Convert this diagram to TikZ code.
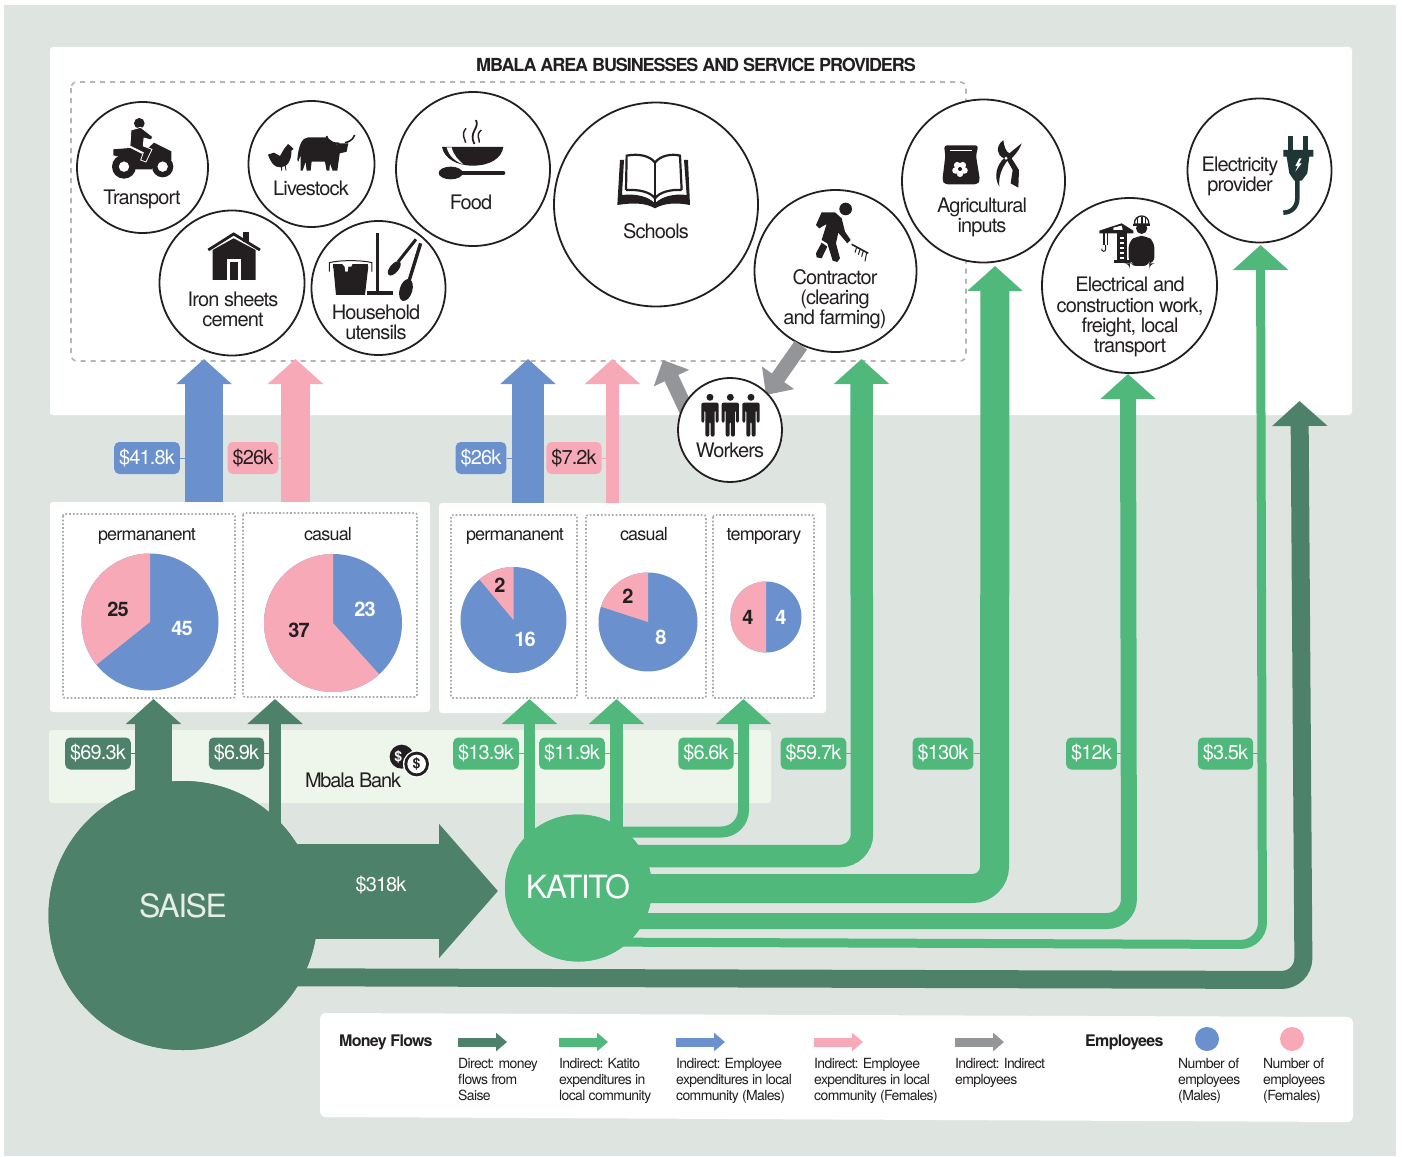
\documentclass[tikz,border=0pt]{standalone}
\usepackage{fontspec}
\setmainfont{TeX Gyre Heros}[LetterSpace=-4.5]
\usetikzlibrary{arrows.meta}
\definecolor{bgcol}{HTML}{DEE5E1}
\definecolor{bandcol}{HTML}{EEF5EA}
\definecolor{darkgreen}{HTML}{4E8169}
\definecolor{midgreen}{HTML}{50B87B}
\definecolor{malecol}{HTML}{6A91CE}
\definecolor{femalecol}{HTML}{F7A9B8}
\definecolor{workercol}{HTML}{939598}
\definecolor{ink}{HTML}{231F20}
\tikzset{
  biz/.style={circle,draw=ink,fill=white,line width=1.8pt,inner sep=0pt},
  bizlab/.style={text=ink,align=center,inner sep=0pt,font=\fontsize{20}{20.2}\selectfont},
  piehead/.style={text=ink,inner sep=0pt,font=\fontsize{18}{18}\selectfont},
  pienum/.style={inner sep=0pt,font=\bfseries\fontsize{20}{20}\selectfont},
  panel/.style={fill=white,rounded corners=3pt,inner sep=0pt},
  pricetag/.style={rounded corners=5pt,minimum height=32pt,inner xsep=5pt,inner ysep=0pt,font=\fontsize{20}{20}\selectfont},
  gtag/.style={pricetag,fill=midgreen,text=white},
  dtag/.style={pricetag,fill=darkgreen,text=white},
  btag/.style={pricetag,fill=malecol,text=white},
  ptag/.style={pricetag,fill=femalecol,text=ink},
  tick/.style={line width=1pt},
  flow/.style={-{Triangle[width=54pt,length=25pt]},line width=#1,rounded corners=22pt},
  legarrow/.style={-{Triangle[width=18pt,length=11pt]},line width=9pt},
  legtext/.style={text=ink,align=left,anchor=north west,inner sep=0pt,font=\fontsize{14}{16}\selectfont},
  legbold/.style={text=ink,anchor=west,inner sep=0pt,font=\bfseries\fontsize{16}{16}\selectfont},
  dotbox/.style={workercol!80,line width=1.7pt,dash pattern=on 1.7pt off 2pt,rounded corners=2pt},
  zoomA/.style={shift={(50,80)},x=.3333pt,y=-.3333pt},
  zoomB/.style={shift={(540,90)},x=.3333pt,y=-.3333pt},
  zoomC/.style={shift={(900,90)},x=.3333pt,y=-.3333pt},
  zoomD/.style={shift={(40,700)},x=.3333pt,y=-.3333pt},
  zoomF/.style={shift={(420,105)},x=.3333pt,y=-.3333pt},
}
\begin{document}
\begin{tikzpicture}[x=1pt,y=-1pt]
\useasboundingbox (0,0) rectangle (1402,1156);
\fill[bgcol] (4,5) rectangle (1396,1156);
% panels
\node[panel,minimum width=1302pt,minimum height=368pt] (toppanel) at (701,231) {};
\draw[workercol!70,line width=1.6pt,dash pattern=on 5pt off 5pt,rounded corners=6pt] (71,82) rectangle (966,361);
\node[panel,minimum width=380pt,minimum height=210pt] (leftpanel) at (240,607) {};
\node[panel,minimum width=387pt,minimum height=210pt] (rightpanel) at (632.5,608) {};
\node[panel,fill=bandcol,minimum width=722pt,minimum height=73pt] (bank) at (410,766.5) {};
\draw[dotbox] (63,514) rectangle (235,698);
\draw[dotbox] (243,513) rectangle (417,697);
\draw[dotbox] (451,515) rectangle (577,698);
\draw[dotbox] (586,515) rectangle (706,698);
\draw[dotbox] (713,515) rectangle (814,698);
\node[text=ink,inner sep=0pt,font=\bfseries\fontsize{18}{18}\addfontfeature{LetterSpace=-6}\selectfont] (maintitle) at (696,65) {MBALA AREA BUSINESSES AND SERVICE PROVIDERS};
% pies
\foreach \cx/\cy/\rad/\ang in {150/622/68.5/128.6,333/623/69/222,513.5/620/53/40,648/622/49.5/72,766/617/35.5/180}{
  \fill[malecol] (\cx,\cy) circle (\rad);
  \fill[femalecol] (\cx,\cy) -- ++(-90:\rad) arc[start angle=-90,delta angle=-\ang,radius=\rad] -- cycle;
}
\node[piehead] (headA) at (147,536) {permananent};
\node[piehead] (headB) at (328,534.5) {casual};
\node[piehead] (headC) at (515,536) {permananent};
\node[piehead] (headD) at (644,534.5) {casual};
\node[piehead] (headE) at (764,536) {temporary};
\node[pienum,text=white] (numA) at (182,628) {45};
\node[pienum,text=ink] (numB) at (118,609) {25};
\node[pienum,text=white] (numC) at (365,609) {23};
\node[pienum,text=ink] (numD) at (299,630) {37};
\node[pienum,text=ink] (numE) at (500,585) {2};
\node[pienum,text=white] (numF) at (525,639) {16};
\node[pienum,text=ink] (numG) at (628,596) {2};
\node[pienum,text=white] (numH) at (661,637) {8};
\node[pienum,text=ink] (numI) at (748,617) {4};
\node[pienum,text=white] (numJ) at (781,617) {4};
% circles that send the money
\node[circle,fill=darkgreen,minimum size=269pt,inner sep=0pt] (saise) at (183,915.5) {};
\node[circle,fill=midgreen,minimum size=147pt,inner sep=0pt] (katito) at (578.5,888) {};
% arrow tips
\coordinate (tipBa) at (204,359);
\coordinate (tipPa) at (295.5,359);
\coordinate (tipBb) at (528,359);
\coordinate (tipPb) at (612.5,359);
\coordinate (tipSa) at (153.5,699);
\coordinate (tipSb) at (275,699);
\coordinate (tipKa) at (529.5,699);
\coordinate (tipKb) at (616.5,699);
\coordinate (tipKc) at (743.5,699);
\coordinate (tipCon) at (861.5,359);
\coordinate (tipAgr) at (995,266);
\coordinate (tipEle) at (1128,374);
\coordinate (tipPow) at (1260.5,245);
\coordinate (tipLast) at (1299.5,401);
\coordinate (tipBig) at (498,891);
\coordinate (tipSch) at (663,360);
% corners
\coordinate (bendKc) at (743.5,832);
\coordinate (bendCon) at (862,856);
\coordinate (bendAgr) at (994.5,888.5);
\coordinate (bendEle) at (1129,921);
\coordinate (bendPow) at (1262.5,944.5);
\coordinate (bendLast) at (1303.5,980);
\coordinate (startPow) at (578,942);
\coordinate (startLast) at (183,977);
% money flows
\draw[flow=38pt,draw=malecol] (tipBa |- leftpanel.north) -- (tipBa);
\draw[flow=29pt,draw=femalecol] (tipPa |- leftpanel.north) -- (tipPa);
\draw[flow=32pt,draw=malecol] (tipBb |- rightpanel.north) -- (tipBb);
\draw[flow=13pt,draw=femalecol] (tipPb |- rightpanel.north) -- (tipPb);
\draw[flow=37pt,draw=darkgreen] (tipSa |- saise) -- (tipSa);
\draw[flow=12pt,draw=darkgreen] (tipSb |- saise) -- (tipSb);
\draw[flow=11.5pt,draw=midgreen] (tipKa |- katito) -- (tipKa);
\draw[flow=13pt,draw=midgreen] (tipKb |- katito) -- (tipKb);
\draw[flow=11pt,draw=midgreen] (bendKc -| katito) -- (bendKc) -- (tipKc);
\draw[flow=22.5pt,draw=midgreen] (bendCon -| katito) -- (bendCon) -- (tipCon);
\draw[flow=29pt,draw=midgreen] (bendAgr -| katito) -- (bendAgr) -- (tipAgr);
\draw[flow=16pt,draw=midgreen] (bendEle -| katito) -- (bendEle) -- (tipEle);
\draw[flow=9pt,draw=midgreen] (startPow) -- (bendPow) -- (tipPow);
\draw[flow=18pt,draw=darkgreen] (startLast) -- (bendLast) -- (tipLast);
\draw[darkgreen,line width=95pt,-{Triangle[width=131pt,length=59pt]}] (tipBig -| saise) -- (tipBig);
% the two that send, again over their arrows
\node[circle,fill=darkgreen,minimum size=269pt,inner sep=0pt] at (saise) {};
\node[circle,fill=midgreen,minimum size=147pt,inner sep=0pt] at (katito) {};
\node[text=bgcol!70!white,inner sep=0pt,font=\fontsize{32}{32}\selectfont] (saisetext) at (183,906) {SAISE};
\node[text=white,inner sep=0pt,font=\fontsize{32}{32}\selectfont] (katitotext) at (578,887) {KATITO};
\node[text=white,inner sep=0pt,font=\fontsize{20}{20}\selectfont] (bigtag) at (381,885.5) {\$318k};
% businesses
\node[biz,minimum size=131pt] (transport) at (142.5,167.5) {};
\node[biz,minimum size=126pt] (livestock) at (311.5,164) {};
\node[biz,minimum size=154pt] (food) at (473,169) {};
\node[biz,minimum size=145pt] (iron) at (232,283) {};
\node[biz,minimum size=134pt] (house) at (378.5,288) {};
\node[biz,minimum size=204pt] (schools) at (656,204.5) {};
\node[biz,minimum size=162pt] (contractor) at (835.5,271) {};
\node[biz,minimum size=163pt] (agri) at (983.5,181) {};
\node[biz,minimum size=175pt] (electrical) at (1129.5,285.5) {};
\node[biz,minimum size=144pt] (power) at (1259.5,170.5) {};
% workers arrows
\draw[workercol,line width=15pt,-{Triangle[width=38pt,length=21pt]}] (contractor.245) -- (766,395) coordinate (tipWork);
\draw[workercol,line width=15pt,-{Triangle[width=38pt,length=20pt]}] (692,422) coordinate (startSch) -- (tipSch);
\node[biz,minimum size=104pt] (workers) at (730,430) {};
% texts of the circles
\node[bizlab] (transportlab) at (142,199) {Transport};
\node[bizlab] (livestocklab) at (311,188) {Livestock};
\node[bizlab] (foodlab) at (471,202) {Food};
\node[bizlab] (ironlab) at (233,309.5) {Iron sheets\\cement};
\node[bizlab] (houselab) at (376,322) {Household\\utensils};
\node[bizlab] (schoolslab) at (656,231) {Schools};
\node[bizlab] (contractorlab) at (835,299) {Contractor\\(clearing\\and farming)};
\node[bizlab] (agrilab) at (982,217) {Agricultural\\inputs};
\node[bizlab] (electricallab) at (1130,317) {Electrical and\\construction work,\\freight, local\\transport};
\node[bizlab] (powerlab) at (1240,176) {Electricity\\provider};
\node[bizlab] (workerslab) at (730,450) {Workers};
\node[bizlab,font=\fontsize{20}{20}\addfontfeature{LetterSpace=-6}\selectfont] (banklab) at (353,780) {Mbala Bank};
% money tags
\node[btag] (tagA) at (147,458) {\$41.8k};
\node[ptag] (tagB) at (253,458) {\$26k};
\node[btag] (tagC) at (481,458) {\$26k};
\node[ptag] (tagD) at (574,458) {\$7.2k};
\node[dtag] (tagE) at (98,753.5) {\$69.3k};
\node[dtag] (tagF) at (236.5,753.5) {\$6.9k};
\node[gtag] (tagG) at (486,753.5) {\$13.9k};
\node[gtag] (tagH) at (572,753.5) {\$11.9k};
\node[gtag] (tagI) at (706,753.5) {\$6.6k};
\node[gtag] (tagJ) at (813.5,753.5) {\$59.7k};
\node[gtag] (tagK) at (943,753.5) {\$130k};
\node[gtag] (tagL) at (1091.5,753.5) {\$12k};
\node[gtag] (tagM) at (1225.5,753.5) {\$3.5k};
\draw[tick,malecol] (tagA) -- (tagA -| tipBa);
\draw[tick,femalecol] (tagB) -- (tagB -| tipPa);
\draw[tick,malecol] (tagC) -- (tagC -| tipBb);
\draw[tick,femalecol] (tagD) -- (tagD -| tipPb);
\draw[tick,darkgreen] (tagE) -- (tagE -| tipSa);
\draw[tick,darkgreen] (tagF) -- (tagF -| tipSb);
\draw[tick,midgreen] (tagG) -- (tagG -| tipKa);
\draw[tick,midgreen] (tagH) -- (tagH -| tipKb);
\draw[tick,midgreen] (tagI) -- (tagI -| tipKc);
\draw[tick,midgreen] (tagJ) -- (tagJ -| tipCon);
\draw[tick,midgreen] (tagK) -- (tagK -| tipAgr);
\draw[tick,midgreen] (tagL) -- (tagL -| tipEle);
\draw[tick,midgreen] (tagM) -- (tagM -| tipPow);
% icons, top left
\begin{scope}[zoomA]
  % quad bike
  \fill[ink] (190,208) -- (240,204) -- (276,222) -- (312,188) -- (364,214) -- (364,240) -- (316,244) -- (306,268) -- (256,268) -- (250,240) -- (190,226) -- cycle;
  \fill[ink,even odd rule] (222,260) circle (36) circle (16) (338,260) circle (32) circle (16);
  \fill[ink] (268,130) circle (16);
  \filldraw[ink,draw=white,line width=.8pt] (243,150) -- (272,142) -- (308,170) -- (304,180) -- (282,174) -- (280,198) -- (306,208) -- (288,246) -- (272,240) -- (280,218) -- (240,198) -- cycle;
  % hen and cow
  \fill[ink] (654,224) -- (672,218) -- (690,228) .. controls (698,215) and (702,205) .. (708,200) -- (714,192) -- (722,198) -- (731,207) -- (724,212) .. controls (726,240) and (712,262) .. (692,262) .. controls (672,262) and (664,250) .. cycle;
  \draw[ink,line width=.8pt] (695,260) -- (695,272) (706,258) -- (708,272);
  \fill[ink] (742,240) .. controls (745,200) and (755,172) .. (775,172) -- (830,172) -- (862,195) -- (870,215) -- (862,272) -- (848,272) -- (840,250) -- (838,272) -- (830,272) -- (825,245) -- (785,245) -- (782,272) -- (770,272) -- (767,245) -- (758,272) -- (752,272) -- (752,225) -- (745,245) -- cycle;
  \fill[ink] (860,190) -- (895,190) -- (890,215) -- (870,220) -- cycle;
  \draw[ink,line width=1.6pt] (830,168) .. controls (835,190) and (855,190) .. (868,190) (914,165) .. controls (908,182) and (895,186) .. (885,188);
  % house
  \draw[ink,line width=2.8pt] (475,510) -- (551,462) -- (630,510);
  \fill[ink] (580,456) rectangle (597,485);
  \fill[ink] (488,600) -- (488,510) -- (551,475) -- (617,510) -- (617,600) -- cycle;
  \fill[white] (532,600) rectangle (572,538);
  \fill[ink] (540,600) rectangle (565,547);
  % bucket, mop, spoons
  \fill[ink] (850,560) -- (955,560) -- (945,645) -- (858,645) -- cycle;
  \draw[ink,line width=1pt] (838,575) -- (838,548) .. controls (870,540) and (935,540) .. (966,548) -- (966,575);
  \fill[ink] (850,552) rectangle (955,565);
  \fill[white] (875,550) -- (908,550) -- (904,560) -- (895,560) -- (893,575) -- (886,575) -- (884,560) -- cycle;
  \fill[ink] (977,458) rectangle (987,632);
  \fill[ink] (950,632) rectangle (1028,645);
  \draw[ink,line width=3pt] (1098,478) -- (1045,545);
  \fill[ink,rotate around={-40:(1033,565)}] (1033,565) ellipse (13 and 26);
  \draw[ink,line width=3.4pt] (1112,490) -- (1078,600);
  \fill[ink,rotate around={-17:(1068,630)}] (1068,630) ellipse (19 and 34);
\end{scope}
% bowl and spoon
\begin{scope}[zoomF]
  \fill[ink] (66,126) -- (250,126) .. controls (245,160) and (210,182) .. (158,182) .. controls (110,182) and (72,160) .. cycle;
  \fill[white] (80,127) -- (95,127) .. controls (100,150) and (115,165) .. (130,178) .. controls (105,170) and (85,150) .. cycle;
  \fill[ink] (92,204) ellipse (36 and 19);
  \draw[ink,line width=4pt,line cap=round] (125,204) -- (250,204);
  \draw[ink,line width=1.4pt] (138,70) .. controls (122,90) and (135,100) .. (137,113);
  \draw[ink,line width=1.8pt] (168,45) .. controls (180,70) and (145,80) .. (163,117);
  \draw[ink,line width=1.4pt] (184,75) .. controls (165,92) and (180,100) .. (178,113);
\end{scope}
% book, digger, workers
\begin{scope}[zoomB]
  \draw[ink,line width=2.2pt] (258,300) -- (260,197) .. controls (295,190) and (330,197) .. (345,218) .. controls (360,197) and (395,190) .. (420,197) -- (425,300);
  \draw[ink,line width=2.2pt] (258,300) .. controls (295,298) and (330,305) .. (345,325) .. controls (360,305) and (395,298) .. (425,300);
  \draw[ink,line width=2.2pt] (345,218) -- (345,350);
  \fill[ink] (240,210) -- (252,210) -- (246,315) .. controls (290,310) and (325,320) .. (345,340) .. controls (365,320) and (400,310) .. (440,315) -- (432,210) -- (444,210) -- (450,345) .. controls (410,338) and (375,338) .. (345,355) .. controls (315,338) and (280,338) .. (232,345) -- cycle;
  \fill[ink] (917,357) circle (19);
  \fill[ink] (845,367) -- (885,367) -- (905,385) -- (915,425) -- (932,450) -- (922,460) -- (895,428) -- (888,460) -- (900,505) -- (892,516) -- (878,512) -- (862,460) -- (845,450) -- (860,402) -- (838,415) -- (828,405) -- cycle;
  \fill[ink] (845,458) -- (862,470) -- (845,505) -- (830,502) -- (828,490) -- cycle;
  \draw[ink,line width=1.6pt] (935,463) -- (985,490);
  \draw[ink,line width=1pt] (950,472) -- (945,488) (960,478) -- (955,494) (970,483) -- (965,500) (980,488) -- (975,514);
  \foreach \wx in {510,571,633}{
    \fill[ink] (\wx,922) circle (10.5);
    \fill[ink,rounded corners=2pt] (\wx-26,938) -- (\wx+26,938) -- (\wx+26,998) -- (\wx+17,998) -- (\wx+17,960) -- (\wx+14,960) -- (\wx+14,1040) -- (\wx+2,1040) -- (\wx+2,995) -- (\wx-2,995) -- (\wx-2,1040) -- (\wx-14,1040) -- (\wx-14,960) -- (\wx-17,960) -- (\wx-17,998) -- (\wx-26,998) -- cycle;
  }
\end{scope}
% bag, clippers, crane, plug
\begin{scope}[zoomC]
  \fill[ink,rounded corners=3pt] (132,166) -- (235,166) -- (228,197) -- (240,272) -- (232,283) -- (135,283) -- (127,272) -- (136,197) -- cycle;
  \draw[white,line width=.8pt] (150,181) -- (215,181);
  \foreach \pa in {0,72,144,216,288}{
    \fill[white] (180,237) ++(\pa+90:14) circle (10);
  }
  \fill[ink] (180,237) circle (6);
  \fill[ink] (310,150) .. controls (285,170) and (290,195) .. (312,205) .. controls (290,225) and (280,260) .. (298,290) .. controls (295,260) and (305,235) .. (322,212) -- (338,240) -- (332,280) -- (355,293) -- (357,240) -- (335,205) .. controls (350,190) and (360,175) .. (365,160) -- (328,190) .. controls (318,185) and (312,170) .. cycle;
  \fill[white] (318,205) circle (5);
  % crane
  \fill[ink] (598,422) -- (665,400) -- (700,422) -- (700,430) -- (598,430) -- cycle;
  \fill[white] (640,413) -- (665,407) -- (668,420) -- (640,420) -- cycle;
  \fill[ink] (652,430) rectangle (680,510);
  \foreach \ly in {440,455,470,485,500}{
    \fill[white] (660,\ly) rectangle (672,\ly+7);
  }
  \fill[ink] (642,510) rectangle (690,518);
  \draw[ink,line width=1.3pt] (612,430) -- (612,465) (622,430) -- (622,465);
  \draw[ink,line width=1pt] (617,465) -- (617,478) arc[start angle=0,delta angle=200,radius=6];
  % builder
  \fill[ink] (725,415) circle (17);
  \filldraw[fill=white,draw=ink,line width=1.3pt] (703,402) .. controls (703,370) and (747,370) .. (747,402) -- cycle;
  \fill[ink] (700,401) rectangle (750,407);
  \fill[ink] (722,380) rectangle (728,402);
  \fill[ink] (711,385) rectangle (714,402);
  \fill[ink] (736,385) rectangle (739,402);
  \fill[ink,rounded corners=6pt] (686,455) -- (710,438) -- (740,438) -- (763,455) -- (763,520) -- (748,520) -- (748,528) -- (690,528) -- (690,520) -- (686,520) -- cycle;
  % plug
  \fill[ink!90!cyan] (1165,137) rectangle (1180,185);
  \fill[ink!90!cyan] (1210,137) rectangle (1225,185);
  \fill[ink!90!cyan] (1150,180) -- (1240,180) -- (1240,200) -- (1228,200) -- (1222,250) -- (1205,272) -- (1183,272) -- (1168,250) -- (1160,200) -- (1150,200) -- cycle;
  \fill[white] (1198,205) -- (1186,228) -- (1193,228) -- (1186,245) -- (1205,220) -- (1197,220) -- (1205,205) -- cycle;
  \draw[ink!90!cyan,line width=4.5pt] (1192,268) -- (1192,325) .. controls (1192,350) and (1175,368) .. (1150,368);
\end{scope}
% coins
\begin{scope}[zoomD]
  \fill[ink] (1085,170) circle (36);
  \node[text=white,inner sep=0pt,font=\bfseries\fontsize{14}{14}\selectfont] (coinA) at (1075,170) {\$};
  \fill[white] (1130,192) circle (41);
  \fill[ink] (1130,192) circle (37);
  \fill[white] (1130,192) circle (28);
  \node[text=ink,inner sep=0pt,font=\bfseries\fontsize{14}{14}\selectfont] (coinB) at (1130,192) {\$};
\end{scope}
% legend
\fill[white,rounded corners=6pt] (320,1013) -- (1353,1017) -- (1353,1122) -- (320,1117) -- cycle;
\node[legbold] (legtitleA) at (339,1042) {Money Flows};
\node[legbold] (legtitleB) at (1085,1042) {Employees};
\coordinate (legA) at (458,1042);
\coordinate (legB) at (559,1042);
\coordinate (legC) at (676,1042);
\coordinate (legD) at (814,1042);
\coordinate (legE) at (955,1042);
\draw[legarrow,darkgreen] (legA) -- ++(49,0);
\draw[legarrow,midgreen] (legB) -- ++(49,0);
\draw[legarrow,malecol] (legC) -- ++(49,0);
\draw[legarrow,femalecol] (legD) -- ++(49,0);
\draw[legarrow,workercol] (legE) -- ++(49,0);
\node[legtext] (legtextA) at (458,1058) {Direct: money\\flows from\\Saise};
\node[legtext] (legtextB) at (559,1058) {Indirect: Katito\\expenditures in\\local community};
\node[legtext] (legtextC) at (676,1058) {Indirect: Employee\\expenditures in local\\community (Males)};
\node[legtext] (legtextD) at (814,1058) {Indirect: Employee\\expenditures in local\\community (Females)};
\node[legtext] (legtextE) at (955,1058) {Indirect: Indirect\\employees};
\fill[malecol] (1207,1039) circle (12);
\fill[femalecol] (1292,1039) circle (12);
\node[legtext] (legtextF) at (1178,1058) {Number of\\employees\\(Males)};
\node[legtext] (legtextG) at (1263,1058) {Number of\\employees\\(Females)};
\end{tikzpicture}
\end{document}
